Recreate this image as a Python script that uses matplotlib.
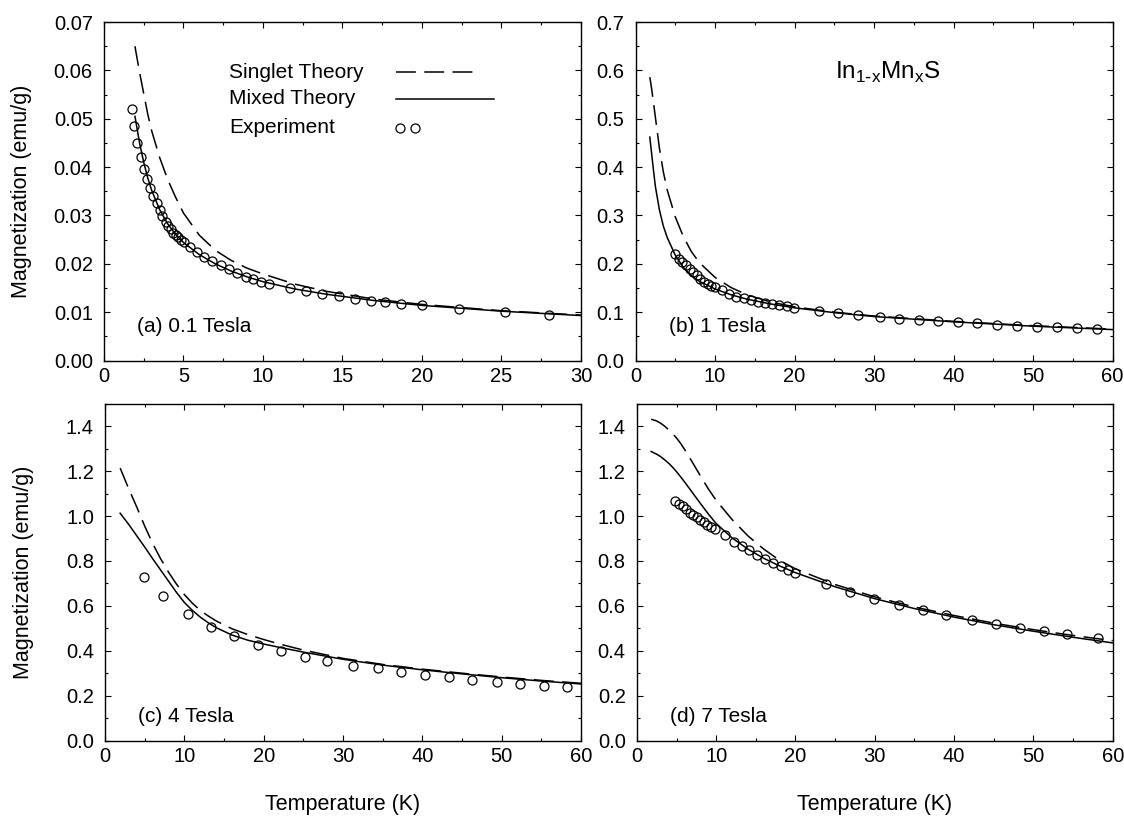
import numpy as np
import matplotlib
matplotlib.use('Agg')
import matplotlib.pyplot as plt
from matplotlib.ticker import MultipleLocator

plt.rcParams['font.family'] = ['Liberation Sans', 'DejaVu Sans']

# (a) 0.1 Tesla
t_theory_a = [1.95, 2, 2.25, 2.5, 2.75, 3, 3.5, 4, 4.5, 5, 6, 7, 8, 9, 10, 12, 14, 17, 20, 25, 30]
singlet_a = [0.0650, 0.0640, 0.0594, 0.0552, 0.0510, 0.0475, 0.0420, 0.0375, 0.0338, 0.0305, 0.0259,
             0.0228, 0.0207, 0.0191, 0.0179, 0.0158, 0.0143, 0.0127, 0.0116, 0.0103, 0.0094]
mixed_a = [0.0505, 0.0495, 0.0448, 0.0410, 0.0378, 0.0352, 0.0312, 0.0283, 0.0261, 0.0244, 0.0219,
           0.0200, 0.0185, 0.0173, 0.0163, 0.0148, 0.0137, 0.0124, 0.0114, 0.0102, 0.0093]
t_exp_a = [1.74, 1.89, 2.10, 2.31, 2.52, 2.68, 2.89, 3.10, 3.31, 3.50, 3.67, 3.88, 4.05, 4.19, 4.33,
           4.51, 4.65, 4.82, 5.03, 5.41, 5.87, 6.29, 6.81, 7.34, 7.86, 8.39, 8.91, 9.39, 9.85, 10.4,
           11.7, 12.7, 13.7, 14.8, 15.8, 16.8, 17.7, 18.7, 20.0, 22.3, 25.2, 28.0]
m_exp_a = [0.0521, 0.0485, 0.0450, 0.0421, 0.0397, 0.0376, 0.0357, 0.0340, 0.0325, 0.0311, 0.0299,
           0.0287, 0.0279, 0.0271, 0.0264, 0.0260, 0.0255, 0.0249, 0.0245, 0.0235, 0.0224, 0.0215,
           0.0206, 0.0198, 0.0189, 0.0181, 0.0172, 0.0168, 0.0163, 0.0158, 0.0150, 0.0143, 0.0138,
           0.0133, 0.0128, 0.0123, 0.0120, 0.0117, 0.0114, 0.0107, 0.0100, 0.0095]

# (b) 1 Tesla
t_theory_b = [1.8, 2, 2.25, 2.5, 3, 3.5, 4, 5, 6, 7, 8, 10, 12, 14, 17, 20, 25, 30, 40, 50, 60]
singlet_b = [0.586, 0.565, 0.535, 0.503, 0.440, 0.390, 0.352, 0.297, 0.257, 0.226, 0.203, 0.172,
             0.151, 0.136, 0.121, 0.111, 0.100, 0.092, 0.081, 0.072, 0.065]
mixed_b = [0.462, 0.432, 0.395, 0.360, 0.312, 0.278, 0.254, 0.218, 0.193, 0.176, 0.164, 0.148,
           0.136, 0.127, 0.117, 0.109, 0.099, 0.091, 0.080, 0.071, 0.064]
t_exp_b = [4.98, 5.43, 5.9, 6.3, 6.8, 7.2, 7.7, 8.15, 8.6, 9.06, 9.5, 10.0, 10.9, 11.8, 12.7, 13.6,
           14.5, 15.4, 16.3, 17.2, 18.1, 19.0, 19.9, 23.1, 25.5, 28.0, 30.7, 33.1, 35.6, 38.0, 40.5,
           43.0, 45.5, 48.0, 50.5, 53.0, 55.5, 58.0]
m_exp_b = [0.221, 0.210, 0.203, 0.197, 0.190, 0.183, 0.176, 0.169, 0.163, 0.159, 0.155, 0.152,
           0.145, 0.138, 0.132, 0.129, 0.126, 0.122, 0.119, 0.116, 0.114, 0.112, 0.109, 0.103,
           0.099, 0.094, 0.090, 0.086, 0.084, 0.081, 0.079, 0.077, 0.074, 0.072, 0.070, 0.069,
           0.068, 0.066]

# (c) 4 Tesla
t_theory_c = [1.9, 3, 4, 5, 6, 7, 8, 9, 10, 11, 12, 13, 14, 16, 18, 20, 22, 25, 30, 35, 40, 45, 50,
              55, 60]
singlet_c = [1.214, 1.12, 1.04, 0.955, 0.878, 0.81, 0.75, 0.697, 0.65, 0.612, 0.58, 0.555, 0.533,
             0.498, 0.472, 0.45, 0.43, 0.403, 0.366, 0.339, 0.318, 0.30, 0.283, 0.268, 0.255]
mixed_c = [1.013, 0.962, 0.912, 0.862, 0.81, 0.76, 0.71, 0.66, 0.615, 0.58, 0.55, 0.525, 0.503,
           0.47, 0.447, 0.43, 0.415, 0.394, 0.362, 0.336, 0.315, 0.297, 0.28, 0.265, 0.252]
t_exp_c = [4.9, 7.36, 10.4, 13.3, 16.2, 19.3, 22.2, 25.2, 28.0, 31.3, 34.4, 37.3, 40.3, 43.4,
           46.3, 49.4, 52.3, 55.3, 58.2]
m_exp_c = [0.728, 0.642, 0.565, 0.508, 0.464, 0.426, 0.400, 0.374, 0.355, 0.334, 0.321, 0.306,
           0.294, 0.282, 0.270, 0.263, 0.254, 0.245, 0.237]

# (d) 7 Tesla
t_theory_d = [1.8, 2.5, 3, 3.5, 4, 4.5, 5, 5.5, 6, 7, 8, 9, 10, 12, 14, 16, 18, 20, 25, 30, 35, 40,
              45, 50, 55, 60]
singlet_d = [1.432, 1.424, 1.414, 1.401, 1.385, 1.368, 1.348, 1.325, 1.298, 1.24, 1.18, 1.122, 1.07,
             0.985, 0.912, 0.853, 0.803, 0.765, 0.695, 0.64, 0.595, 0.557, 0.523, 0.494, 0.468, 0.445]
mixed_d = [1.288, 1.276, 1.265, 1.251, 1.236, 1.218, 1.198, 1.176, 1.153, 1.105, 1.057, 1.01, 0.967,
           0.903, 0.853, 0.812, 0.778, 0.748, 0.685, 0.632, 0.588, 0.55, 0.516, 0.487, 0.46, 0.435]
t_exp_d = [4.86, 5.3, 5.8, 6.2, 6.7, 7.1, 7.6, 8.0, 8.5, 8.9, 9.4, 9.85, 11.1, 12.3, 13.2, 14.2,
           15.1, 16.1, 17.2, 18.2, 19.1, 20.0, 23.8, 26.9, 29.9, 33.0, 36.1, 39.0, 42.2, 45.3,
           48.3, 51.3, 54.2, 58.1]
m_exp_d = [1.068, 1.055, 1.043, 1.031, 1.016, 1.006, 0.996, 0.984, 0.972, 0.960, 0.951, 0.942,
           0.914, 0.883, 0.865, 0.847, 0.828, 0.808, 0.790, 0.776, 0.758, 0.746, 0.697, 0.660,
           0.630, 0.605, 0.580, 0.560, 0.538, 0.520, 0.501, 0.489, 0.475, 0.456]

DASH = (0, (13, 5.5))
LW = 1.1
FS = 15


def style_axes(ax, xmax, xmaj, ymax, ymaj):
    ax.set_xlim(0, xmax)
    ax.set_ylim(0, ymax)
    ax.xaxis.set_major_locator(MultipleLocator(xmaj))
    ax.xaxis.set_minor_locator(MultipleLocator(xmaj / 2))
    ax.yaxis.set_major_locator(MultipleLocator(ymaj))
    ax.yaxis.set_minor_locator(MultipleLocator(ymaj / 2))
    ax.tick_params(which='both', direction='in', top=True, right=True, width=0.8)
    ax.tick_params(which='major', length=4, labelsize=14.5)
    ax.tick_params(axis='x', which='major', pad=5)
    ax.tick_params(axis='y', which='major', pad=8)
    ax.tick_params(which='minor', length=2.5)
    for s in ax.spines.values():
        s.set_linewidth(1.0)


def draw_panel(ax, t_th, singlet, mixed, t_exp, m_exp, label, label_y):
    ax.plot(t_th, singlet, color='black', lw=LW, linestyle=DASH)
    ax.plot(t_th, mixed, color='black', lw=LW)
    ax.plot(t_exp, m_exp, 'o', mfc='none', mec='black', ms=6.5, mew=0.9)
    ax.text(0.07, label_y, label, transform=ax.transAxes, fontsize=FS, va='center')


fig = plt.figure(figsize=(11.24, 8.25), dpi=100)
ax_a = fig.add_axes([0.0925, 0.563, 0.4244, 0.4103])
ax_b = fig.add_axes([0.5654, 0.563, 0.4244, 0.4103])
ax_c = fig.add_axes([0.0935, 0.1024, 0.4234, 0.408])
ax_d = fig.add_axes([0.5666, 0.1024, 0.4234, 0.408])

draw_panel(ax_a, t_theory_a, singlet_a, mixed_a, t_exp_a, m_exp_a, '(a) 0.1 Tesla', 0.1)
draw_panel(ax_b, t_theory_b, singlet_b, mixed_b, t_exp_b, m_exp_b, '(b) 1 Tesla', 0.1)
draw_panel(ax_c, t_theory_c, singlet_c, mixed_c, t_exp_c, m_exp_c, '(c) 4 Tesla', 0.07)
draw_panel(ax_d, t_theory_d, singlet_d, mixed_d, t_exp_d, m_exp_d, '(d) 7 Tesla', 0.07)

style_axes(ax_a, 30, 5, 0.07, 0.01)
style_axes(ax_b, 60, 10, 0.7, 0.1)
style_axes(ax_c, 60, 10, 1.5, 0.2)
style_axes(ax_d, 60, 10, 1.5, 0.2)

for ax in (ax_a, ax_c):
    ax.set_ylabel('Magnetization (emu/g)', fontsize=15.5)
    ax.yaxis.set_label_coords(-0.15, 0.5)
for ax in (ax_c, ax_d):
    ax.set_xlabel('Temperature (K)', fontsize=15.5)
    ax.xaxis.set_label_coords(0.5, -0.16)

# legend drawn by hand: text on the left, keys on the right
tr = ax_a.transAxes
ax_a.text(0.262, 0.852, 'Singlet Theory', transform=tr, fontsize=FS, va='center')
ax_a.text(0.262, 0.773, 'Mixed Theory', transform=tr, fontsize=FS, va='center')
ax_a.text(0.262, 0.687, 'Experiment', transform=tr, fontsize=FS, va='center')
ax_a.plot([0.612, 0.778], [0.852, 0.852], transform=tr, color='black', lw=LW, linestyle=DASH)
ax_a.plot([0.612, 0.818], [0.773, 0.773], transform=tr, color='black', lw=LW)
ax_a.plot([0.621, 0.652], [0.687, 0.687], 'o', transform=tr, mfc='none', mec='black', ms=6.5, mew=0.9)

ax_b.text(0.418, 0.852, r'In$_{\mathregular{1\text{-}x}}$Mn$_{\mathregular{x}}$S', transform=ax_b.transAxes,
          fontsize=17.5, va='center')

fig.savefig('out.png', dpi=100)
